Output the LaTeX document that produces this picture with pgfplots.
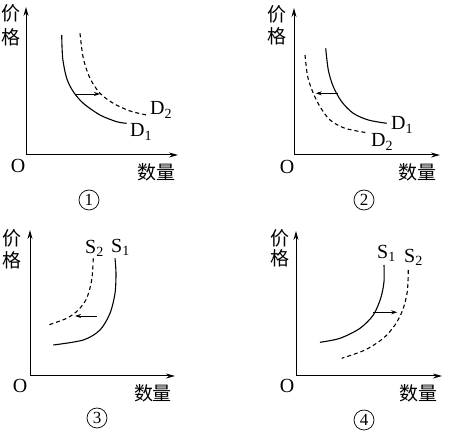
\documentclass[border=0pt]{standalone}
\usepackage{pgfplots}
\pgfplotsset{compat=1.18}
\usetikzlibrary{arrows.meta}
\usepackage{fontspec}
\setmainfont{Liberation Serif}
\newfontfamily\cjk{Noto Sans CJK SC}
\pgfplotsset{
  panel/.style={
    scale only axis, anchor=south west, clip=false,
    axis lines=left, xtick=\empty, ytick=\empty,
    xmin=0, ymin=0,
    axis line style={line width=1pt},
    x axis line style={-{Stealth[length=9pt,width=5pt]}},
    y axis line style={-{Stealth[length=9pt,width=5pt]}},
  },
  solidc/.style={line width=1.1pt, smooth, no marks, black},
  dashc/.style={line width=1.1pt, smooth, no marks, black, dash pattern=on 4pt off 3pt},
  arr/.style={line width=0.9pt, no marks, black, -{Stealth[length=6pt,width=4pt]}},
}
\tikzset{lab/.style={font=\fontsize{20}{20}\selectfont, anchor=west, inner sep=0pt}}
\begin{document}
\begin{tikzpicture}
\path (0pt,0pt) rectangle (451pt,437pt);
% ---- Panel 1 ----
\begin{axis}[panel, at={(26pt,282pt)}, xmax=152, ymax=148, width=152pt, height=148pt]
\addplot[solidc] coordinates {(35.7,120)(36.7,96.7)(40.7,76.7)(47.3,63.3)(57.3,51.7)(74,40)(90.7,33.3)(100.7,31.7)};
\addplot[dashc] coordinates {(54,121.7)(57.3,96.7)(64,76.7)(74,61.7)(87.3,51.7)(104,44)(120.7,40)};
\addplot[arr] coordinates {(50,61)(74,61)};
\node[lab] at (axis cs:124,45) {D\textsubscript{2}};
\node[lab] at (axis cs:104,23) {D\textsubscript{1}};
\end{axis}
% ---- Panel 2 ----
\begin{axis}[panel, at={(294pt,282pt)}, xmax=146, ymax=147, width=146pt, height=147pt]
\addplot[solidc] coordinates {(31.7,106.7)(34.3,85)(39.3,68.3)(47.7,53.3)(59.3,41.7)(74.3,35)(92.7,31.7)};
\addplot[dashc] coordinates {(11,100)(13.7,78.3)(19.3,61.7)(26,48.3)(36,35)(51,26.7)(72.7,22.3)};
\addplot[arr] coordinates {(44.3,61.7)(21.7,61.7)};
\node[lab] at (axis cs:97,30) {D\textsubscript{1}};
\node[lab] at (axis cs:77,13) {D\textsubscript{2}};
\end{axis}
% ---- Panel 3 ----
\begin{axis}[panel, at={(30pt,61pt)}, xmax=145, ymax=146, width=145pt, height=146pt]
\addplot[solidc] coordinates {(85,117.7)(86,102.7)(85,82.7)(80,62.7)(70,46)(53.3,36)(23.3,31)};
\addplot[dashc] coordinates {(63.3,117.7)(61.7,96)(56.7,77.7)(48.3,66)(36.7,57.7)(18.3,51)};
\addplot[arr] coordinates {(66.7,60)(45,60)};
\node[lab] at (axis cs:55,128) {S\textsubscript{2}};
\node[lab] at (axis cs:81,129) {S\textsubscript{1}};
\end{axis}
% ---- Panel 4 ----
\begin{axis}[panel, at={(296pt,61pt)}, xmax=146, ymax=145, width=146pt, height=145pt]
\addplot[solidc] coordinates {(88,111)(88,94.3)(84.7,77.7)(77.3,61)(64,47.7)(44,37.7)(24,33.7)};
\addplot[dashc] coordinates {(112.3,106)(111.3,84.3)(106.7,66)(99,51)(87.3,37.7)(69,26)(45.7,17.7)};
\addplot[arr] coordinates {(77.3,63.7)(101.3,63.7)};
\node[lab] at (axis cs:81,123) {S\textsubscript{1}};
\node[lab] at (axis cs:108,119) {S\textsubscript{2}};
\end{axis}
% ---- text ----
\begin{scope}[every node/.style={inner sep=0pt}]
\foreach \x/\ya/\yb in {11/424/400, 277/423/401, 12/199/177, 280/199/179}{
  \node[font=\cjk\fontsize{19}{19}\selectfont] at (\x pt,\ya pt) {价};
  \node[font=\cjk\fontsize{19}{19}\selectfont] at (\x pt,\yb pt) {格};
}
\foreach \x/\y in {156/265, 417/265, 153/44, 418/44}{
  \node[font=\cjk\fontsize{19}{19}\selectfont] at (\x pt,\y pt) {数量};
}
\foreach \x/\y in {18/271, 287/270, 20/51, 287/51}{
  \node[font=\fontsize{20}{20}\selectfont] at (\x pt,\y pt) {O};
}
\foreach \x/\y/\n in {89/237/1, 364/237/2, 97/19/3, 364/17/4}{
  \node[circle, draw, line width=0.7pt, minimum size=20pt, font=\fontsize{17}{17}\selectfont] at (\x pt,\y pt) {\n};
}
\end{scope}
\end{tikzpicture}
\end{document}
